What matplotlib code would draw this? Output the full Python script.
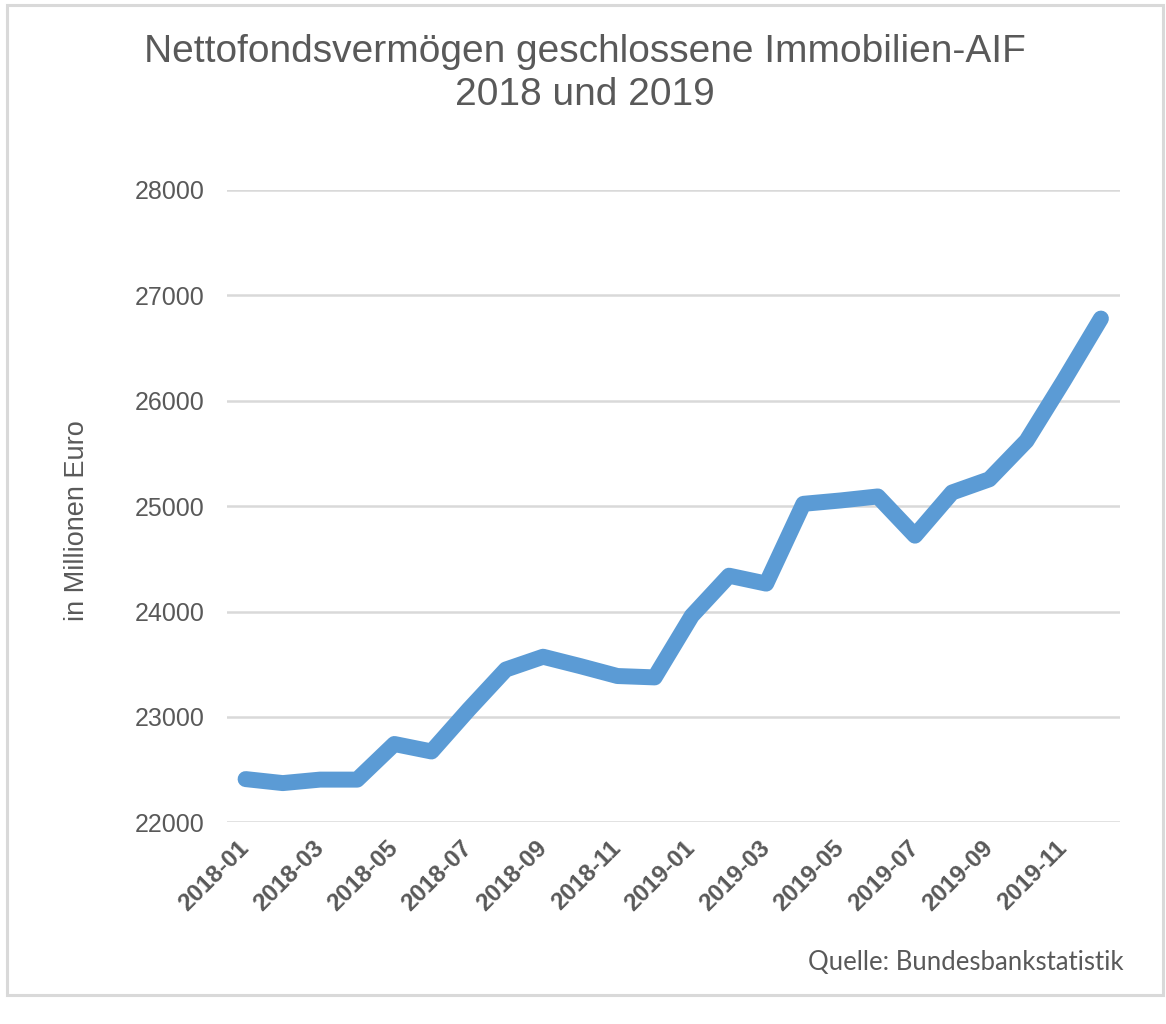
import matplotlib
matplotlib.use("Agg")
import matplotlib.pyplot as plt
from matplotlib.patches import Rectangle

# ---- data ----
months = ["2018-01", "2018-02", "2018-03", "2018-04", "2018-05", "2018-06",
          "2018-07", "2018-08", "2018-09", "2018-10", "2018-11", "2018-12",
          "2019-01", "2019-02", "2019-03", "2019-04", "2019-05", "2019-06",
          "2019-07", "2019-08", "2019-09", "2019-10", "2019-11", "2019-12"]
values = [22410, 22372, 22405, 22405, 22743, 22672,
          23070, 23450, 23571, 23482, 23388, 23375,
          23960, 24340, 24265, 25022, 25054, 25092,
          24720, 25130, 25255, 25620, 26190, 26780]
yticks = [22000, 23000, 24000, 25000, 26000, 27000, 28000]
title = "Nettofondsvermögen geschlossene Immobilien-AIF\n2018 und 2019"
ylabel = "in Millionen Euro"
source = "Quelle: Bundesbankstatistik"

W, H = 1166, 1024
fig = plt.figure(figsize=(W / 100, H / 100), dpi=100)
fig.patch.set_facecolor("white")

TXT = "#595959"
FONT = "Liberation Sans"

# outer border
fig.patches.append(Rectangle((7 / W, 1 - 995 / H), (1163 - 7) / W, (995 - 5) / H,
                             transform=fig.transFigure, fill=False,
                             edgecolor="#D9D9D9", linewidth=2.2, zorder=0))

left, right, top, bottom = 227, 1119.5, 190, 822.3
ax = fig.add_axes([left / W, 1 - bottom / H, (right - left) / W, (bottom - top) / H])

x = list(range(len(months)))
ax.plot(x, values, color="#5B9BD5", linewidth=11.5, solid_capstyle="round",
        solid_joinstyle="round", zorder=3)

ax.set_xlim(-0.5, len(months) - 0.5)
ax.set_ylim(22000, 28000)
ax.set_yticks(yticks)
ax.set_yticklabels([str(v) for v in yticks], fontsize=18, color=TXT, family=FONT)
ax.yaxis.grid(True, color="#D9D9D9", linewidth=1.8)
ax.set_axisbelow(True)
for s in ax.spines.values():
    s.set_visible(False)
ax.tick_params(axis="y", length=0, pad=16)
ax.tick_params(axis="x", length=0, pad=16)

tick_idx = x[::2]
ax.set_xticks(tick_idx)
ax.set_xticklabels([months[i] for i in tick_idx], rotation=45, ha="right",
                   va="center", rotation_mode="anchor", fontsize=17.5,
                   fontweight="bold", color=TXT, family=FONT)

fig.text(585 / W, 1 - 73.5 / H, title, ha="center", va="center", fontsize=28,
         color=TXT, family=FONT, linespacing=1.22)
fig.text(77 / W, 1 - 521 / H, ylabel, ha="center", va="center", rotation=90,
         fontsize=19.5, color=TXT, family=FONT)
fig.text(1124 / W, 1 - 970 / H, source, ha="right", va="baseline", fontsize=18.5,
         color=TXT, family="Lato")

fig.savefig("out.png", dpi=100, facecolor="white")
